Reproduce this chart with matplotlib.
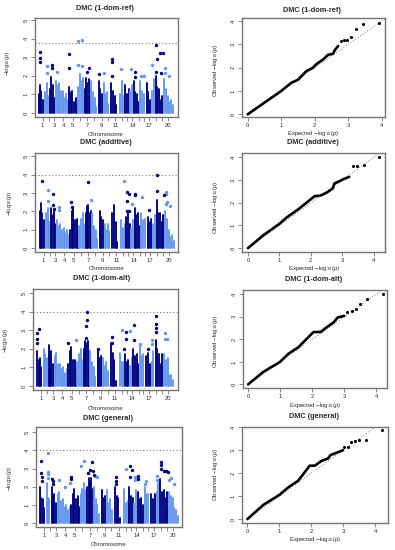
import matplotlib
matplotlib.use('Agg')
import matplotlib.pyplot as plt

plt.rcParams['font.family'] = ['Liberation Sans', 'DejaVu Sans']
plt.rcParams['mathtext.fontset'] = 'custom'
plt.rcParams['mathtext.rm'] = 'Liberation Sans'
plt.rcParams['mathtext.it'] = 'Liberation Sans:italic'

W, H = 395, 550
DARK = '#00007f'
LIGHT = '#6495ed'
EDGE = '#757575'
TXT = '#2a2a2a'

# positions along the genome, one list per chromosome
chrom_pos = [
    [116, 120, 124, 128], [136, 140, 144], [150, 154, 158, 162],
    [168, 173, 178, 183, 188, 193, 198, 203], [207, 212, 217, 222, 227, 231],
    [235, 240, 245, 250], [254, 258, 262, 266, 270], [274, 279, 284, 289],
    [296, 301, 306], [311, 316, 321, 326], [335, 340, 345, 350],
    [362, 367, 372], [377, 382, 387], [392, 397], [402, 407, 412, 417],
    [422, 427, 432], [441, 446, 451], [457, 462],
    [468, 473, 478, 483, 488], [494, 499, 504, 509, 514, 519],
]
chrom_ticks = [128, 146, 163, 190, 218, 240, 262, 282, 305, 325, 347, 367, 382, 398, 418, 432, 448, 470, 487, 505]
chrom_labels = ['1', '', '3', '4', '5', '', '7', '', '9', '', '11', '', '', '14', '', '', '17', '', '', '20']

# top of the solid part of each column
top_ref = [
    [1.0, 1.5, 1.2, 0.7], [1.1, 1.6, 0.9], [1.3, 1.95, 1.5, 0.8],
    [1.7, 1.5, 1.6, 1.2, 1.2, 0.8, 1.0, 0.7], [1.4, 1.1, 1.2, 0.6, 0.8, 0.5],
    [1.4, 2.1, 1.7, 1.9], [1.3, 1.9, 1.6, 1.8, 1.2], [1.7, 1.1, 0.8, 0.3],
    [1.7, 1.3, 1.0], [1.6, 1.0, 1.1, 0.5], [1.6, 1.2, 0.9, 0.4],
    [1.0, 1.7, 0.9], [1.5, 1.0, 1.3], [1.2, 1.5], [1.7, 1.1, 1.0, 0.6],
    [1.7, 1.2, 1.0], [1.6, 1.1, 0.7], [1.2, 1.8],
    [2.0, 1.4, 1.3, 0.7, 0.9], [1.8, 1.3, 0.9, 0.6, 0.7, 0.4],
]
top_add = [
    [2.0, 2.45, 1.9, 1.5], [1.9, 2.2, 1.4], [2.2, 1.8, 2.0, 1.3],
    [1.5, 1.2, 1.3, 1.0, 1.1, 0.8, 1.0, 0.7], [1.0, 2.0, 2.2, 1.5, 1.6, 1.0],
    [1.2, 1.6, 1.9, 1.3], [1.9, 2.3, 2.35, 1.9, 2.0], [1.9, 1.2, 1.0, 0.5],
    [2.0, 1.7, 1.5], [1.3, 1.0, 1.3, 0.9], [1.9, 2.35, 1.4, 0.3],
    [1.5, 1.1, 1.3], [1.7, 2.0, 1.3], [1.1, 1.5], [2.2, 1.8, 1.9, 1.2],
    [1.9, 1.5, 1.6], [1.7, 1.4, 1.6], [1.3, 1.8],
    [2.6, 1.9, 1.9, 1.4, 1.8], [2.0, 1.6, 1.0, 0.6, 0.7, 0.4],
]
top_alt = [
    [1.9, 1.4, 1.5, 1.0], [2.0, 1.7, 1.5], [2.2, 1.7, 1.9, 1.2],
    [1.6, 1.8, 1.2, 1.2, 0.9, 1.0, 0.7, 0.9], [1.2, 1.9, 2.1, 1.4, 1.4, 0.9],
    [1.3, 1.7, 2.0, 1.4], [2.0, 2.4, 2.3, 2.4, 1.9], [1.9, 1.3, 1.0, 0.5],
    [1.9, 1.5, 1.6], [1.5, 1.1, 1.3, 0.8], [2.3, 1.8, 1.4, 0.25],
    [1.8, 1.3, 1.3], [1.7, 1.3, 1.4], [1.1, 1.5], [2.0, 1.6, 1.7, 1.2],
    [2.2, 1.6, 1.7], [1.6, 1.8, 1.2], [1.3, 1.9],
    [2.5, 2.0, 1.7, 1.2, 1.7], [1.7, 1.4, 1.5, 0.6, 0.6, 0.3],
]
top_gen = [
    [2.0, 1.4, 1.3, 0.8], [2.2, 1.4, 1.3], [2.0, 1.5, 1.6, 1.1],
    [1.6, 1.7, 1.2, 1.3, 0.9, 1.0, 0.7, 0.9], [1.0, 1.6, 1.9, 1.3, 1.5, 0.9],
    [1.6, 1.9, 2.2, 1.8], [2.0, 2.5, 2.2, 2.5, 1.9], [2.0, 1.3, 1.0, 0.5],
    [1.8, 1.4, 1.5], [1.8, 1.1, 1.3, 0.7], [2.0, 1.5, 1.4, 0.3],
    [1.9, 1.1, 1.2], [2.0, 1.5, 1.4], [1.1, 1.8], [1.7, 1.3, 1.4, 1.0],
    [2.0, 1.6, 1.6], [1.6, 1.3, 1.6], [1.7, 2.2],
    [2.4, 1.7, 1.8, 1.4, 1.7], [1.7, 1.5, 1.4, 0.8, 0.7, 0.4],
]

# single points above the solid columns
ref_dark_x = [119, 119, 119, 155, 155, 207, 207, 268, 262, 298, 337, 337, 337, 405, 405, 470, 472, 480, 490, 470, 485]
ref_dark_y = [3.3, 2.95, 2.73, 2.6, 2.4, 3.15, 2.4, 2.4, 2.2, 2.1, 2.9, 2.75, 2.0, 2.2, 1.95, 3.65, 2.9, 3.2, 3.2, 2.2, 2.15]
ref_light_x = [140, 140, 172, 235, 247, 233, 247, 313, 365, 393, 425, 432, 458, 495, 507, 495]
ref_light_y = [2.5, 2.15, 2.2, 3.87, 3.9, 2.58, 2.52, 2.15, 2.35, 2.37, 2.0, 2.0, 2.58, 2.42, 2.0, 2.15]

add_dark_x = [122, 262, 470, 470, 155, 380, 384, 403, 403, 490, 380, 445, 380, 385, 210, 212, 155, 160]
add_dark_y = [3.63, 3.6, 4.0, 3.13, 2.93, 3.05, 2.95, 2.95, 2.88, 2.9, 2.55, 2.07, 2.03, 2.03, 2.5, 2.25, 2.35, 2.15]
add_light_x = [370, 140, 423, 497, 495, 140, 395, 270, 175, 175, 500, 495, 507]
add_light_y = [3.68, 3.17, 2.77, 3.04, 2.95, 2.55, 2.4, 2.6, 2.25, 2.07, 2.5, 2.4, 2.3]

alt_dark_x = [265, 265, 260, 470, 470, 470, 470, 120, 115, 115, 115, 403, 403, 337, 337, 380, 380, 208, 375, 445, 262, 297]
alt_dark_y = [4.0, 3.58, 3.22, 3.78, 3.33, 3.1, 2.9, 3.05, 2.84, 2.53, 2.3, 3.27, 2.5, 2.64, 2.3, 2.93, 2.53, 2.32, 2.0, 2.0, 2.57, 2.0]
alt_light_x = [368, 392, 232, 497, 497, 503, 458, 458, 422]
alt_light_y = [3.0, 2.97, 2.48, 2.84, 2.53, 2.53, 2.48, 2.25, 2.27]

gen_dark_x = [120, 120, 123, 121, 152, 155, 155, 207, 207, 267, 263, 270, 273, 256, 338, 338, 338, 378, 385, 378, 402, 402, 470, 470, 470, 478, 485, 490]
gen_dark_y = [3.42, 2.76, 2.54, 2.3, 2.45, 2.3, 2.13, 2.54, 2.4, 3.35, 2.94, 2.87, 2.63, 2.78, 2.54, 2.3, 2.13, 3.14, 2.9, 2.54, 2.6, 2.4, 3.38, 3.18, 3.0, 2.85, 2.88, 2.8]
gen_light_x = [139, 139, 139, 139, 173, 188, 203, 235, 246, 277, 282, 368, 393, 395, 426, 422, 458, 458, 500, 494, 507]
gen_light_y = [3.84, 2.8, 2.7, 2.5, 2.35, 2.0, 2.2, 3.13, 3.42, 2.57, 2.54, 3.0, 2.54, 2.35, 2.32, 2.13, 2.57, 2.38, 2.5, 2.38, 2.17]

# QQ curves, solid part then the sparse tail
qq_ref_x = [0, 0.5, 1, 1.3, 1.5, 1.75, 1.95, 2.05, 2.25, 2.4, 2.55, 2.6, 2.7]
qq_ref_y = [0, 0.5, 1, 1.35, 1.48, 1.85, 2.0, 2.15, 2.35, 2.55, 2.6, 2.75, 2.93]
tail_ref_x = [2.8, 2.88, 2.96, 3.08, 3.22, 3.43, 3.91]
tail_ref_y = [3.16, 3.19, 3.19, 3.3, 3.65, 3.88, 3.9]

qq_add_x = [0, 0.5, 1, 1.24, 1.6, 1.87, 2.12, 2.3, 2.51, 2.7, 2.75, 2.93, 3.04, 3.22]
qq_add_y = [0, 0.58, 1.07, 1.36, 1.71, 2.01, 2.29, 2.31, 2.45, 2.63, 2.85, 2.96, 3.04, 3.14]
tail_add_x = [3.34, 3.48, 3.7, 4.18]
tail_add_y = [3.62, 3.62, 3.68, 4.0]

qq_alt_x = [0, 0.47, 0.99, 1.26, 1.57, 1.85, 2.04, 2.27, 2.44, 2.67, 2.8, 3.0]
qq_alt_y = [0, 0.55, 0.99, 1.36, 1.65, 2.05, 2.32, 2.33, 2.52, 2.75, 2.97, 3.04]
tail_alt_x = [3.09, 3.25, 3.36, 3.51, 3.72, 4.2]
tail_alt_y = [3.2, 3.28, 3.34, 3.57, 3.79, 4.01]

qq_gen_x = [0, 0.5, 1, 1.28, 1.59, 1.95, 2.11, 2.32, 2.52, 2.6, 2.99]
qq_gen_y = [0, 0.62, 1.05, 1.38, 1.67, 2.32, 2.32, 2.53, 2.63, 2.78, 2.99]
tail_gen_x = [3.02, 3.15, 3.25, 3.36, 3.49, 3.72, 4.2]
tail_gen_y = [3.15, 3.15, 3.35, 3.38, 3.44, 3.44, 3.86]

fig = plt.figure(figsize=(W / 100, H / 100), dpi=100)


def put_text(x, y, s, size=4.3, rot=0, bold=False):
    fig.text(x / W, 1 - y / H, s, fontsize=size, rotation=rot, ha='center', va='center',
             color=TXT, fontweight='bold' if bold else 'normal')


def make_axes(box):
    left, right, top, bottom = box
    ax = fig.add_axes([left / W, 1 - bottom / H, (right - left) / W, (bottom - top) / H])
    for s in ax.spines.values():
        s.set_color(EDGE)
        s.set_linewidth(1.0)
    ax.tick_params(axis='both', length=3, width=0.6, color=EDGE, labelsize=4.2, labelcolor=TXT, pad=1.5)
    return ax


def manhattan(box, xlim, ylim, tops, dx, dy, lx, ly, cut, title, title_pos, xlab_pos, ylab_pos):
    ax = make_axes(box)
    for i in range(len(chrom_pos)):
        col = DARK if i % 2 == 0 else LIGHT
        ax.vlines(chrom_pos[i], 0, tops[i], color=col, linewidth=1.35, capstyle='round', zorder=2)
    ax.scatter(lx, ly, s=6, color=LIGHT, linewidths=0, zorder=3)
    ax.scatter(dx, dy, s=6, color=DARK, linewidths=0, zorder=3)
    ax.axhline(cut, color='#777777', linewidth=0.8, linestyle=(0, (1, 2)), zorder=1)
    ax.set_xlim(xlim)
    ax.set_ylim(ylim)
    ax.set_xticks(chrom_ticks, chrom_labels)
    ax.set_yticks([0, 1, 2, 3, 4, 5])
    for t in ax.get_yticklabels():
        t.set_rotation(90)
        t.set_va('center')
    put_text(title_pos[0], title_pos[1], title, size=5.3, bold=True)
    put_text(xlab_pos[0], xlab_pos[1], 'Chromosome')
    put_text(ylab_pos[0], ylab_pos[1], r'$-\mathrm{log}_{10}(\mathit{p})$', rot=90)


def qqplot(box, xlim, ylim, qx, qy, tx, ty, title, title_pos, xlab_pos, ylab_pos):
    ax = make_axes(box)
    ax.plot([0, 5], [0, 5], color='#777777', linewidth=0.7, linestyle=(0, (1, 2)), zorder=1)
    ax.plot(qx, qy, color='black', linewidth=1.9, solid_capstyle='round', solid_joinstyle='round', zorder=2)
    ax.scatter(tx, ty, s=5, color='black', linewidths=0, zorder=3)
    ax.set_xlim(xlim)
    ax.set_ylim(ylim)
    ax.set_xticks([0, 1, 2, 3, 4])
    ax.set_yticks([0, 1, 2, 3, 4])
    for t in ax.get_yticklabels():
        t.set_rotation(90)
        t.set_va('center')
    put_text(title_pos[0], title_pos[1], title, size=5.3, bold=True)
    put_text(xlab_pos[0], xlab_pos[1], r'Expected $-\mathrm{log}_{10}(\mathit{p})$')
    put_text(ylab_pos[0], ylab_pos[1], r'Observed $-\mathrm{log}_{10}(\mathit{p})$', rot=90)


# left column
manhattan((35, 178, 18, 117), (105, 535), (-0.22, 5.11), top_ref, ref_dark_x, ref_dark_y, ref_light_x, ref_light_y,
          3.75, 'DMC (1-dom-ref)', (105, 9), (106, 134), (8, 63))
manhattan((35, 178, 153, 252), (102, 532), (-0.22, 5.18), top_add, add_dark_x, add_dark_y, add_light_x, add_light_y,
          4.0, 'DMC (additive)', (106, 143), (107, 269), (9, 203))
manhattan((33, 178, 289, 390), (103, 535), (-0.22, 5.23), top_alt, alt_dark_x, alt_dark_y, alt_light_x, alt_light_y,
          4.0, 'DMC (1-dom-alt)', (102, 279), (106, 408), (6, 340))
manhattan((36, 182, 427, 527), (104.6, 531), (-0.22, 5.29), top_gen, gen_dark_x, gen_dark_y, gen_light_x, gen_light_y,
          4.0, 'DMC (general)', (108, 418), (109, 544), (9, 478))

# right column
qqplot((242, 385, 18, 117), (-0.17, 4.1), (-0.115, 4.13), qq_ref_x, qq_ref_y, tail_ref_x, tail_ref_y,
       'DMC (1-dom-ref)', (312, 11), (313, 134), (216, 70))
qqplot((242, 385, 153, 252), (-0.19, 4.36), (-0.17, 4.19), qq_add_x, qq_add_y, tail_add_x, tail_add_y,
       'DMC (additive)', (313, 143), (314, 269), (216, 207))
qqplot((243, 387, 290, 388), (-0.16, 4.34), (-0.16, 4.19), qq_alt_x, qq_alt_y, tail_alt_x, tail_alt_y,
       'DMC (1-dom-alt)', (314, 280), (315, 405), (216, 341))
qqplot((242, 388, 427, 523), (-0.17, 4.4), (-0.17, 4.0), qq_gen_x, qq_gen_y, tail_gen_x, tail_gen_y,
       'DMC (general)', (314, 417), (315, 539), (215, 474))

fig.savefig('out.png', dpi=100)
